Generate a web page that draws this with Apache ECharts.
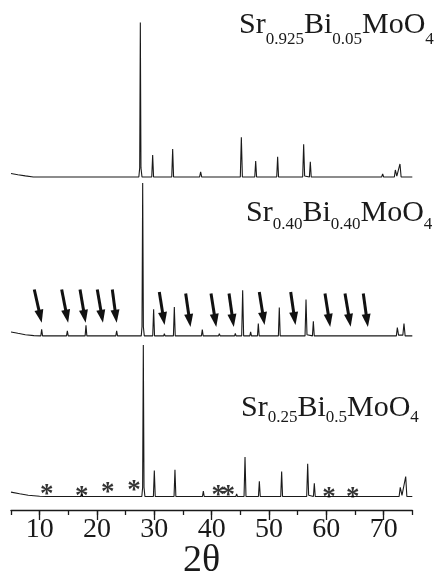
<!DOCTYPE html>
<html>
<head>
<meta charset="utf-8">
<script src="https://cdn.jsdelivr.net/npm/echarts@6/dist/echarts.min.js"></script>
<style>
  html, body { margin: 0; padding: 0; background: #ffffff; }
  #chart { width: 440px; height: 573px; }
</style>
</head>
<body>
<div id="chart"></div>
<script>
// XRD patterns, [2θ (deg), relative intensity above the pattern's own baseline]
const patternX05 = [
  [5.0, 2.3], [6.2, 1.5], [7.5, 0.7], [8.9, 0],
  [17.9, 0], [18.1, 1.3], [18.3, 0],
  [27.3, 0], [27.45, 6], [27.56, 102], [27.67, 6], [27.85, 0],
  [29.55, 0], [29.71, 14.5], [29.87, 0],
  [33.04, 0], [33.2, 18.5], [33.36, 0],
  [36.5, 0], [36.63, 0.7], [36.76, 0],
  [37.9, 0], [38.08, 3.3], [38.26, 0],
  [43.85, 0], [43.96, 0.7], [44.07, 0],
  [45.0, 0], [45.18, 26.2], [45.36, 0],
  [47.52, 0], [47.68, 10.6], [47.84, 0],
  [51.35, 0], [51.51, 13.4], [51.67, 0],
  [55.88, 0], [56.05, 21.6], [56.22, 0.6],
  [57.05, 0], [57.21, 10.1], [57.37, 0],
  [61.8, 0], [61.92, 0.7], [62.04, 0],
  [69.65, 0], [69.83, 2.0], [70.0, 0],
  [71.87, 0], [72.04, 4.6], [72.3, 0.6], [72.85, 8.6], [73.05, 0],
  [75.0, 0]
];

const patternX40 = [
  [5.0, 2.6], [6.2, 1.7], [7.5, 0.8], [9.0, 0.2],
  [10.2, 0], [10.35, 4.4], [10.5, 0],
  [14.68, 0], [14.83, 3.3], [14.98, 0],
  [17.93, 0], [18.08, 7.0], [18.23, 0],
  [20.87, 0], [20.99, 1.3], [21.11, 0],
  [23.28, 0], [23.43, 3.3], [23.58, 0],
  [27.72, 0], [27.85, 6], [27.97, 101], [28.09, 6], [28.25, 0],
  [29.72, 0], [29.88, 17.6], [30.04, 0],
  [31.63, 0], [31.75, 1.5], [31.87, 0],
  [33.33, 0], [33.49, 19.1], [33.65, 0],
  [35.08, 0], [35.2, 0.7], [35.32, 0],
  [38.22, 0], [38.37, 4.2], [38.52, 0],
  [41.2, 0], [41.34, 1.5], [41.48, 0],
  [44.0, 0], [44.13, 1.6], [44.26, 0],
  [45.24, 0], [45.41, 30.1], [45.58, 0],
  [46.66, 0], [46.8, 2.6], [46.94, 0],
  [47.99, 0], [48.14, 8.1], [48.29, 0],
  [49.38, 0], [49.5, 0.8], [49.62, 0],
  [51.64, 0], [51.8, 18.7], [51.96, 0],
  [54.13, 0], [54.25, 0.7], [54.37, 0],
  [56.29, 0], [56.46, 24.0], [56.63, 0.8],
  [57.58, 0], [57.74, 9.7], [57.9, 0],
  [61.98, 0], [62.1, 0.7], [62.22, 0],
  [67.38, 0], [67.5, 0.7], [67.62, 0],
  [70.28, 0], [70.41, 1.1], [70.54, 0],
  [72.22, 0], [72.39, 5.5], [72.6, 0.5], [73.35, 0.5], [73.55, 8.1], [73.75, 0],
  [75.0, 0]
];

const patternX50 = [
  [5.0, 2.9], [6.5, 1.8], [8.0, 0.8], [10.0, 0.2],
  [11.1, 0], [11.25, 0.8], [11.4, 0],
  [15.8, 0], [15.95, 1.3], [16.1, 0],
  [17.2, 0], [17.35, 1.5], [17.5, 0],
  [21.7, 0], [21.85, 0.8], [22.0, 0],
  [27.82, 0], [27.96, 6], [28.08, 100], [28.2, 6], [28.36, 0],
  [29.84, 0], [30.0, 17.2], [30.16, 0],
  [33.44, 0], [33.6, 17.6], [33.76, 0],
  [38.4, 0], [38.55, 3.5], [38.7, 0],
  [41.3, 0], [41.45, 1.3], [41.6, 0],
  [42.8, 0], [42.95, 1.0], [43.1, 0],
  [44.22, 0], [44.36, 1.8], [44.5, 0],
  [45.65, 0], [45.82, 26.0], [45.99, 0],
  [48.16, 0], [48.32, 10.1], [48.48, 0],
  [52.05, 0], [52.21, 16.5], [52.37, 0],
  [56.58, 0], [56.75, 21.6], [56.92, 0.8],
  [57.75, 0], [57.91, 8.8], [58.07, 0],
  [62.28, 0], [62.4, 0.7], [62.52, 0],
  [70.5, 0], [70.64, 1.3], [70.78, 0],
  [72.7, 0], [72.9, 6.1], [73.2, 0.8], [73.85, 13.2], [74.05, 0],
  [75.0, 0]
];

// vertical stacking offsets of the three patterns
const offsetX05 = 219.8;
const offsetX40 = 114.9;
const offsetX50 = 8.9;

// arrows over the Sr0.40Bi0.40MoO4 pattern: tail and head [2θ, height above baseline]
const arrowTails = [
  [9.06, 30.6], [13.84, 30.6], [17.04, 30.6], [20.05, 30.6], [22.67, 30.6],
  [30.87, 29.0], [35.47, 28.0], [39.89, 28.0], [43.03, 28.0], [48.31, 29.0],
  [53.79, 29.0], [59.77, 28.0], [63.26, 28.0], [66.45, 28.0]
];
const arrowHeads = [
  [10.11, 12.9], [14.75, 12.9], [17.83, 12.9], [20.85, 12.9], [23.29, 12.9],
  [31.61, 11.4], [36.15, 10.2], [40.63, 10.2], [43.7, 10.2], [49.05, 11.4],
  [54.46, 11.4], [60.51, 10.2], [64.06, 10.2], [67.1, 10.2]
];

// asterisks over the Sr0.25Bi0.5MoO4 pattern: [2θ, height above baseline]
const asteriskMarks = [
  [11.23, 4.8], [17.33, 3.6], [21.87, 6.5], [26.46, 7.6],
  [41.16, 4.3], [42.9, 4.3], [60.47, 3.2], [64.6, 3.2]
];

const axisLabelValues = [10, 20, 30, 40, 50, 60, 70];

const sampleLabels = [
  { parts: ['Sr', '0.925', 'Bi', '0.05', 'MoO', '4'], left: 239, top: 10, drop: 21 },
  { parts: ['Sr', '0.40', 'Bi', '0.40', 'MoO', '4'], left: 246, top: 198, drop: 18.5 },
  { parts: ['Sr', '0.25', 'Bi', '0.5', 'MoO', '4'], left: 241, top: 393, drop: 16 }
];

const SERIF = "'Liberation Serif', 'Times New Roman', serif";
const INK = '#1a1a1a';

function shift(points, off) {
  return points.map(p => [p[0], p[1] + off]);
}

const titles = sampleLabels.map(l => ({
  text: l.parts.map((t, i) => (i % 2 === 0 ? '{m|' + t + '}' : '{s|' + t + '}')).join(''),
  left: l.left,
  top: l.top,
  padding: 0,
  textStyle: {
    fontWeight: 'normal',
    rich: {
      m: { fontFamily: SERIF, fontSize: 30, fontWeight: 'normal', lineHeight: 30, color: INK, verticalAlign: 'top' },
      s: { fontFamily: SERIF, fontSize: 17, fontWeight: 'normal', lineHeight: 17, color: INK, verticalAlign: 'top', padding: [l.drop, 0, 0, 0] }
    }
  }
}));

const lineStyle = { color: INK, width: 1.1 };

const option = {
  animation: false,
  backgroundColor: '#ffffff',
  title: titles,
  grid: { left: 11, right: 27.7, top: 10, bottom: 63, containLabel: false, outerBoundsMode: 'none' },
  xAxis: [
    {
      type: 'value', min: 5, max: 75, interval: 5,
      axisLine: { show: true, lineStyle: { color: INK, width: 1.3 } },
      axisTick: { show: true, length: 5, inside: false, lineStyle: { color: INK, width: 1.3 } },
      axisLabel: { show: false },
      splitLine: { show: false }
    },
    {
      type: 'value', min: 5, max: 75, position: 'bottom',
      axisLine: { show: false },
      axisTick: { show: true, length: 10, inside: false, customValues: axisLabelValues, lineStyle: { color: INK, width: 1.3 } },
      axisLabel: { show: true, customValues: axisLabelValues, margin: 6, fontFamily: SERIF, fontSize: 28, color: INK },
      splitLine: { show: false },
      name: '2θ',
      nameLocation: 'middle',
      nameGap: 32,
      nameMoveOverlap: false,
      nameTextStyle: { fontFamily: SERIF, fontSize: 38, color: INK, padding: [0, 20, 0, 0] }
    }
  ],
  yAxis: { type: 'value', min: 0, max: 330, show: false, splitLine: { show: false } },
  series: [
    {
      name: 'Sr0.925Bi0.05MoO4', type: 'line', xAxisIndex: 0,
      data: shift(patternX05, offsetX05), showSymbol: false, symbol: 'none', lineStyle
    },
    {
      name: 'Sr0.40Bi0.40MoO4', type: 'line', xAxisIndex: 0,
      data: shift(patternX40, offsetX40), showSymbol: false, symbol: 'none', lineStyle,
      markLine: {
        silent: true,
        symbol: ['none', 'triangle'],
        symbolSize: [9, 13],
        label: { show: false },
        lineStyle: { color: '#111', width: 3, type: 'solid' },
        data: arrowTails.map((t, i) => [
          { coord: [t[0], t[1] + offsetX40] },
          { coord: [arrowHeads[i][0], arrowHeads[i][1] + offsetX40] }
        ])
      }
    },
    {
      name: 'Sr0.25Bi0.5MoO4', type: 'line', xAxisIndex: 0,
      data: shift(patternX50, offsetX50), showSymbol: false, symbol: 'none', lineStyle
    },
    {
      name: 'asterisks', type: 'scatter', xAxisIndex: 0,
      data: shift(asteriskMarks, offsetX50),
      symbolSize: 0,
      z: 5,
      label: {
        show: true, position: 'inside', formatter: '*', offset: [0, 6],
        fontFamily: SERIF, fontWeight: 'bold', fontSize: 27, color: '#000'
      }
    }
  ]
};

const chart = echarts.init(document.getElementById('chart'), null, { renderer: 'canvas' });
chart.setOption(option);
</script>
</body>
</html>
